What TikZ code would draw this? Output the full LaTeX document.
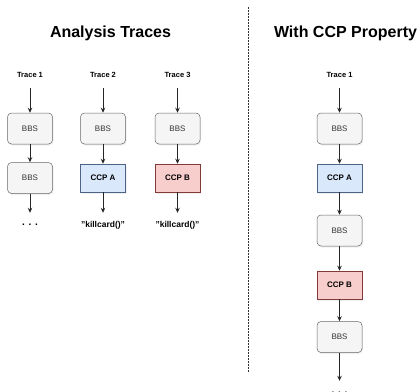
\documentclass[tikz,border=0pt]{standalone}
\usepackage{fontspec}
\setmainfont{Liberation Sans}
\usetikzlibrary{arrows.meta,shadows}
\definecolor{bbsfill}{HTML}{F5F5F5}
\definecolor{bbsline}{HTML}{666666}
\definecolor{bbstext}{HTML}{333333}
\definecolor{ccpafill}{HTML}{DAE8FC}
\definecolor{ccpaline}{HTML}{6C8EBF}
\definecolor{ccpbfill}{HTML}{F8CECC}
\definecolor{ccpbline}{HTML}{B85450}
\tikzset{
    box/.style={minimum width=45pt, inner sep=0pt, line width=0.5pt,
            drop shadow={shadow xshift=1pt, shadow yshift=-1.5pt, opacity=0.12}},
    bbs/.style={box, draw=bbsline, fill=bbsfill, rounded corners=4pt,
            minimum height=31pt, text=bbstext, font=\fontsize{8}{9}\selectfont},
    ccpa/.style={box, draw=ccpaline!70!black, fill=ccpafill, minimum height=28pt,
            font=\bfseries\fontsize{8}{9}\selectfont},
    ccpb/.style={box, draw=ccpbline!70!black, fill=ccpbfill, minimum height=28pt,
            font=\bfseries\fontsize{8}{9}\selectfont},
    tracelabel/.style={font=\bfseries\fontsize{7.5}{9}\selectfont, minimum height=26pt, inner sep=0pt},
    endlabel/.style={font=\bfseries\fontsize{8.5}{9}\selectfont, minimum height=24pt, inner sep=0pt},
    flow/.style={-{Stealth[length=5pt,width=4.5pt]}, line width=0.8pt, draw=black!85},
    heading/.style={font=\bfseries\fontsize{16}{19}\selectfont},
}
\begin{document}
\begin{tikzpicture}[x=1pt, y=-1pt]
    \useasboundingbox (0,0) rectangle (420,391);
    % Draw the headings
    \node[heading] (hleft) at (110.5,33) {Analysis Traces};
    \node[heading] (hright) at (345.5,33) {With CCP Property};
    % Draw the divider
    \coordinate (dtop) at (248.3,7);
    \coordinate (dbot) at (248.3,373);
    \draw[black!80, line width=0.8pt, dash pattern=on 1.5pt off 1.5pt] (dtop) -- (dbot);
    % Draw the analysis traces
    \foreach \x/\n in {30/1, 103/2, 177.5/3} {
            \node[tracelabel] (t\n) at (\x,75) {Trace \n};
            \node[bbs] (b\n) at (\x,128.5) {BBS};
            \draw[flow] (t\n) -- (b\n);
        }
    \node[bbs] (c1) at (30,178) {BBS}; % First trace
    \node[ccpa] (c2) at (103,178) {CCP A}; % Second trace
    \node[ccpb] (c3) at (177.5,178) {CCP B}; % Third trace
    \node[endlabel, font=\bfseries\fontsize{10}{10}\selectfont] (e1) at (30,225) {. . .};
    \node[endlabel] (e2) at (103,225) {"killcard()"};
    \node[endlabel] (e3) at (177.5,225) {"killcard()"};
    \foreach \n in {1,2,3} {
            \draw[flow] (b\n) -- (c\n);
            \draw[flow] (c\n) -- (e\n);
        }
    % Draw the trace with the property
    \node[tracelabel] (rt) at (339.5,75) {Trace 1};
    \node[bbs] (r1) at (339.5,128.5) {BBS};
    \node[ccpa] (r2) at (339.5,178) {CCP A};
    \node[bbs] (r3) at (339.5,230.5) {BBS};
    \node[ccpb] (r4) at (339.5,285) {CCP B};
    \node[bbs] (r5) at (339.5,337) {BBS};
    \node[endlabel, font=\bfseries\fontsize{10}{10}\selectfont] (re) at (339.5,393) {. . .};
    \draw[flow] (rt) -- (r1);
    \foreach \i [evaluate=\i as \j using int(\i+1)] in {1,...,4} {
            \draw[flow] (r\i) -- (r\j);
        }
    \draw[flow] (r5) -- (re);
\end{tikzpicture}
\end{document}
